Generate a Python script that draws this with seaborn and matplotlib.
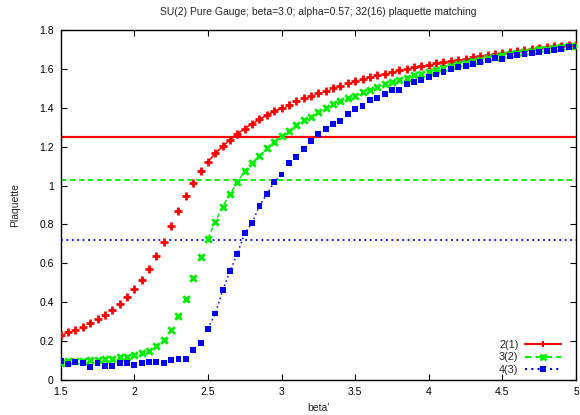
import numpy as np
import pandas as pd
import matplotlib
matplotlib.use("Agg")
import matplotlib.pyplot as plt
import seaborn as sns
from matplotlib.lines import Line2D

beta = [1.5, 1.55, 1.6, 1.65, 1.7, 1.75, 1.8, 1.85, 1.9, 1.95,
        2.0, 2.05, 2.1, 2.15, 2.2, 2.25, 2.3, 2.35, 2.4, 2.45,
        2.5, 2.55, 2.6, 2.65, 2.7, 2.75, 2.8, 2.85, 2.9, 2.95,
        3.0, 3.05, 3.1, 3.15, 3.2, 3.25, 3.3, 3.35, 3.4, 3.45,
        3.5, 3.55, 3.6, 3.65, 3.7, 3.75, 3.8, 3.85, 3.9, 3.95,
        4.0, 4.05, 4.1, 4.15, 4.2, 4.25, 4.3, 4.35, 4.4, 4.45,
        4.5, 4.55, 4.6, 4.65, 4.7, 4.75, 4.8, 4.85, 4.9, 4.95, 5.0]

plaq_21 = [0.231, 0.245, 0.259, 0.274, 0.291, 0.314, 0.334, 0.362, 0.391, 0.425,
           0.466, 0.514, 0.571, 0.637, 0.710, 0.791, 0.871, 0.947, 1.012, 1.073,
           1.123, 1.165, 1.201, 1.235, 1.266, 1.293, 1.317, 1.341, 1.361, 1.382,
           1.399, 1.416, 1.433, 1.448, 1.462, 1.475, 1.488, 1.500, 1.513, 1.526,
           1.536, 1.547, 1.557, 1.567, 1.576, 1.584, 1.593, 1.600, 1.608, 1.615,
           1.622, 1.630, 1.634, 1.641, 1.648, 1.653, 1.660, 1.667, 1.672, 1.677,
           1.682, 1.686, 1.691, 1.696, 1.701, 1.706, 1.711, 1.716, 1.720, 1.723, 1.725]

plaq_32 = [0.086, 0.098, 0.098, 0.098, 0.101, 0.103, 0.108, 0.108, 0.117, 0.120,
           0.127, 0.137, 0.150, 0.174, 0.208, 0.258, 0.331, 0.418, 0.526, 0.633,
           0.727, 0.814, 0.892, 0.957, 1.017, 1.074, 1.117, 1.150, 1.191, 1.223,
           1.253, 1.282, 1.311, 1.336, 1.355, 1.380, 1.401, 1.419, 1.434, 1.451,
           1.463, 1.480, 1.493, 1.507, 1.521, 1.533, 1.543, 1.553, 1.566, 1.576,
           1.583, 1.593, 1.603, 1.615, 1.624, 1.632, 1.639, 1.648, 1.655, 1.663,
           1.672, 1.677, 1.682, 1.689, 1.694, 1.701, 1.704, 1.709, 1.715, 1.718, 1.720]

plaq_43 = [0.096, 0.081, 0.091, 0.089, 0.069, 0.089, 0.074, 0.070, 0.089, 0.087,
           0.075, 0.086, 0.093, 0.093, 0.087, 0.101, 0.108, 0.108, 0.153, 0.192,
           0.264, 0.342, 0.461, 0.560, 0.650, 0.754, 0.809, 0.895, 0.956, 1.018,
           1.057, 1.115, 1.148, 1.190, 1.229, 1.264, 1.291, 1.317, 1.332, 1.370,
           1.392, 1.411, 1.440, 1.452, 1.471, 1.490, 1.493, 1.523, 1.531, 1.542,
           1.559, 1.571, 1.586, 1.598, 1.610, 1.614, 1.627, 1.636, 1.643, 1.655,
           1.650, 1.668, 1.670, 1.675, 1.680, 1.689, 1.692, 1.698, 1.701, 1.711, 1.715]

labels = ["2(1)", "3(2)", "4(3)"]
target_plaq = [1.252, 1.029, 0.718]
fit_range = (2.5, 3.0)

x_ticks = [1.5, 2, 2.5, 3, 3.5, 4, 4.5, 5]
x_ticklabels = ["1.5", "2", "2.5", "3", "3.5", "4", "4.5", "5"]
y_ticks = [0, 0.2, 0.4, 0.6, 0.8, 1.0, 1.2, 1.4, 1.6, 1.8]
y_ticklabels = ["0", "0.2", "0.4", "0.6", "0.8", "1", "1.2", "1.4", "1.6", "1.8"]

title = "SU(2) Pure Gauge; beta=3.0; alpha=0.57; 32(16) plaquette matching"

sns.set_theme(style="ticks")
plt.rcParams["font.family"] = ["Liberation Sans", "DejaVu Sans"]

fig = plt.figure(figsize=(5.8, 4.15), dpi=100)
ax = fig.add_axes([60.7 / 580, 35 / 415, (576 - 60.7) / 580, 350 / 415])

colors = ["#ff0000", "#00ee00", "#0000ff"]
markers = ["+", "x", "s"]
styles = ["-", (0, (3, 2)), (0, (1, 2))]
sizes = [28, 22, 18]
series = [plaq_21, plaq_32, plaq_43]

for lab, vals, col, mk, ls, sz, tgt in zip(labels, series, colors, markers, styles, sizes, target_plaq):
    df = pd.DataFrame({"beta": beta, "plaq": vals})
    seg = df[(df["beta"] >= fit_range[0] - 1e-9) & (df["beta"] <= fit_range[1] + 1e-9)]
    sns.lineplot(data=seg, x="beta", y="plaq", color=col, linestyle=ls, linewidth=1.1,
                 ax=ax, legend=False, estimator=None, sort=True)
    if mk == "s":
        sns.scatterplot(data=df, x="beta", y="plaq", marker=mk, s=sz, color=col,
                        edgecolor="none", ax=ax, legend=False, zorder=3)
    else:
        sns.scatterplot(data=df, x="beta", y="plaq", marker=mk, s=sz, color=col,
                        linewidth=2.0, ax=ax, legend=False, zorder=3)
    ax.axhline(tgt, color=col, linestyle=ls, linewidth=1.6 if ls == "-" else 1.3, zorder=2)

ax.set_xlim(1.5, 5)
ax.set_ylim(0, 1.8)
ax.set_xticks(x_ticks)
ax.set_xticklabels(x_ticklabels)
ax.set_yticks(y_ticks)
ax.set_yticklabels(y_ticklabels)
ax.tick_params(direction="in", length=4, width=0.8, top=True, right=True,
               labelsize=7.5, colors="black", pad=5)
for sp in ax.spines.values():
    sp.set_visible(True)
    sp.set_linewidth(1.0)
    sp.set_color("black")

ax.set_xlabel("beta'", fontsize=7.5, labelpad=4)
ax.set_ylabel("Plaquette", fontsize=7.5, labelpad=14)
ax.set_title(title, fontsize=7.5, pad=11)

handles = [
    Line2D([0], [0], color=colors[0], linestyle="-", linewidth=1.5, marker="+",
           markersize=5, markeredgewidth=1.5),
    Line2D([0], [0], color=colors[1], linestyle=(0, (3, 2)), linewidth=1.5, marker="x",
           markersize=4.5, markeredgewidth=2),
    Line2D([0], [0], color=colors[2], linestyle=(0, (1, 2)), linewidth=1.5, marker="s",
           markersize=4.5, markeredgewidth=0),
]
ax.legend(handles, labels, loc="lower right", frameon=False, markerfirst=False,
          fontsize=7.8, handlelength=3.3, handletextpad=0.6, labelspacing=0.2,
          borderaxespad=0.3, bbox_to_anchor=(0.985, -0.006))

fig.savefig("out.png", dpi=100)
